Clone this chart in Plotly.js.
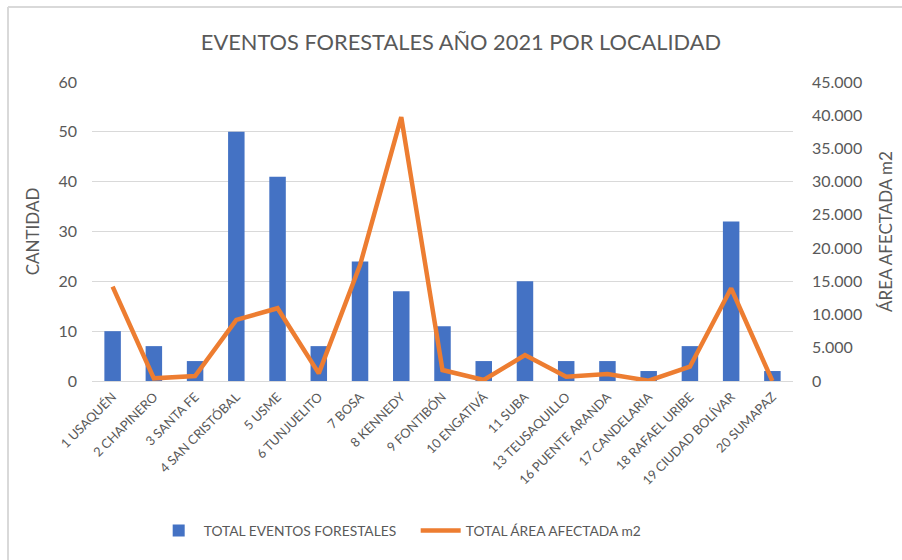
<!DOCTYPE html>
<html>
<head>
<meta charset="utf-8">
<script src="https://cdn.plot.ly/plotly-3.0.1.min.js"></script>
<style>
html,body{margin:0;padding:0;background:#fff;}
#chart{width:902px;height:560px;}
</style>
</head>
<body>
<div id="chart"></div>
<script>
const localidades = ["1 USAQUÉN","2 CHAPINERO","3 SANTA FE","4 SAN CRISTÓBAL","5 USME","6 TUNJUELITO","7 BOSA","8 KENNEDY","9 FONTIBÓN","10 ENGATIVÁ","11 SUBA","13 TEUSAQUILLO","16 PUENTE ARANDA","17 CANDELARIA","18 RAFAEL URIBE","19 CIUDAD BOLÍVAR","20 SUMAPAZ"];
const eventos = [10,7,4,50,41,7,24,18,11,4,20,4,4,2,7,32,2];
const area = [14200,400,750,9200,10950,1150,17450,39700,1650,150,3900,650,1050,50,2150,13950,0];
const leftTicks = [0,10,20,30,40,50,60];
const rightTicks = [0,5000,10000,15000,20000,25000,30000,35000,40000,45000];

const fontFam = "Lato, 'Open Sans', sans-serif";
const grey = "#595959";
const data = [
  {type:"bar", name:"TOTAL EVENTOS FORESTALES", x:localidades, y:eventos,
   marker:{color:"#4472C4"}, yaxis:"y", hoverinfo:"x+y"},
  {type:"scatter", mode:"lines", name:"TOTAL ÁREA AFECTADA m2", x:localidades, y:area,
   line:{color:"#ED7D31", width:4.5}, yaxis:"y2"}
];
const layout = {
  width:902, height:560,
  margin:{l:92, r:109, t:82, b:179},
  paper_bgcolor:"#fff", plot_bgcolor:"#fff",
  separators:",.",
  font:{family:fontFam, color:grey},
  bargap:0.6,
  title:{text:"EVENTOS FORESTALES AÑO 2021 POR LOCALIDAD", font:{size:21.8, color:grey, family:fontFam}, x:0.511, xanchor:"center", y:0.925, yanchor:"middle"},
  xaxis:{tickangle:-45, tickfont:{size:12.8, color:grey}, showgrid:false, showline:false, ticks:"", automargin:false, ticklabelstandoff:5},
  yaxis:{range:[0,60], tickvals:leftTicks, tickfont:{size:16, color:grey}, gridcolor:"#d9d9d9", gridwidth:1.3,
    zeroline:true, zerolinecolor:"#d9d9d9", zerolinewidth:1.3, showline:false, ticks:"", ticklabelstandoff:14,
    title:{text:"CANTIDAD", font:{size:17, color:grey}, standoff:14}, automargin:false},
  yaxis2:{overlaying:"y", side:"right", range:[0,45000], tickvals:rightTicks, tickformat:",", tickfont:{size:16, color:grey},
    showgrid:false, zeroline:false, showline:false, ticks:"", ticklabelstandoff:18,
    title:{text:"ÁREA AFECTADA m2", font:{size:17, color:grey}, standoff:18}, automargin:false},
  legend:{orientation:"h", x:0.088, xanchor:"left", y:-0.5, yanchor:"middle", font:{size:13.8, color:grey}, itemwidth:40, entrywidth:207, traceorder:"normal"},
  shapes:[
    {type:"line", xref:"paper", yref:"paper", x0:-0.1198, x1:-0.1198, y0:1.2508, y1:-0.7, line:{color:"#d9d9d9", width:2}},
    {type:"line", xref:"paper", yref:"paper", x0:-0.1198, x1:1.2, y0:1.2508, y1:1.2508, line:{color:"#d9d9d9", width:2}}
  ],
  showlegend:true
};
Plotly.newPlot("chart", data, layout, {displayModeBar:false, responsive:false});
</script>
</body>
</html>
